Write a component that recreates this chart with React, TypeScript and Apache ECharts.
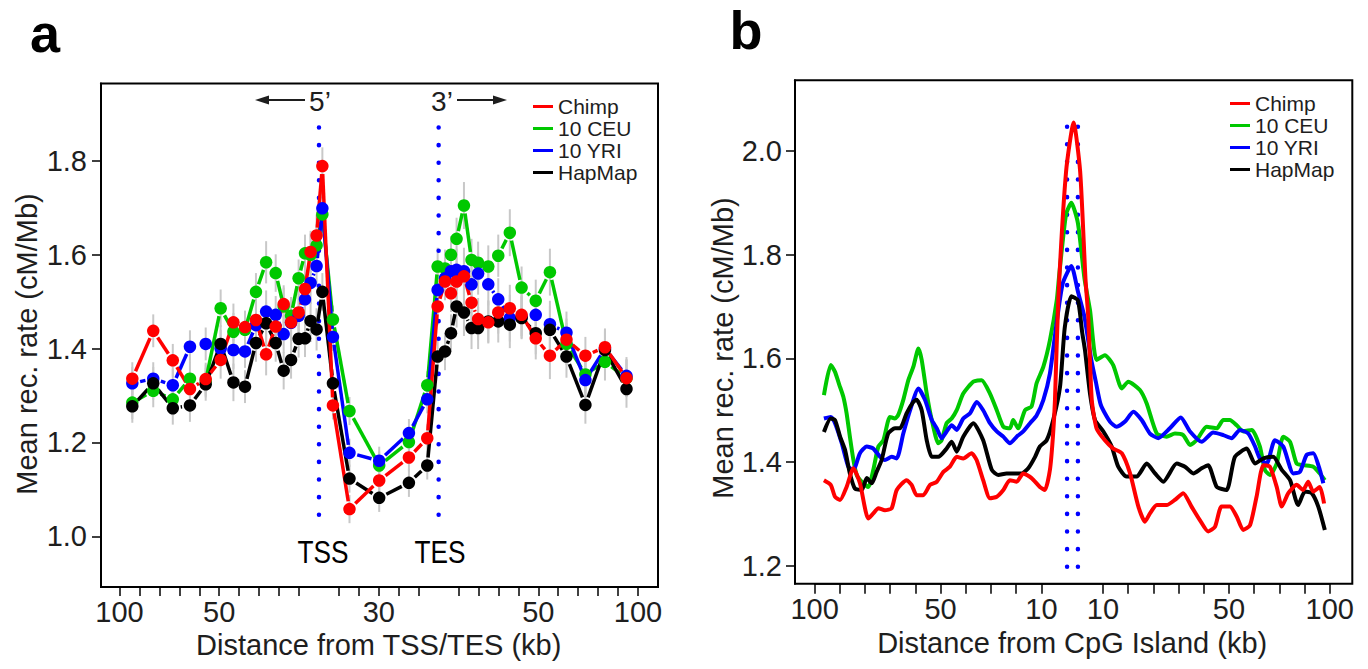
import React, { useEffect, useRef } from 'react';
import * as echarts from 'echarts';

const FONT = '"Liberation Sans", Arial, Helvetica, sans-serif';
const TXT = '#1e1e1e';

const popNames = ['Chimp', '10 CEU', '10 YRI', 'HapMap'];
const popColors = ['#ff0000', '#00c800', '#0000ff', '#000000'];

// ---------- Panel a ----------
const posA = [0.64, 1.69, 2.67, 3.53, 4.32, 5.07, 5.71, 6.29, 6.84, 7.35, 7.83, 8.23, 8.6, 8.98, 9.3, 9.58, 9.88, 10.17,
  10.7, 11.53, 13.02, 14.51, 15.43,
  15.95, 16.32, 16.62, 16.9, 17.27, 17.65, 17.98, 18.49, 18.99, 19.57, 20.16, 20.87, 21.58, 22.41, 23.36, 24.34, 25.42];
const chimpA = [1.336, 1.438, 1.375, 1.314, 1.335, 1.376, 1.456, 1.446, 1.461, 1.388, 1.447, 1.495, 1.456, 1.477, 1.527, 1.606, 1.641, 1.789,
  1.279, 1.058, 1.119, 1.168, 1.209,
  1.49, 1.543, 1.518, 1.543, 1.554, 1.498, 1.463, 1.456, 1.477, 1.486, 1.472, 1.422, 1.385, 1.419, 1.385, 1.403, 1.337];
const ceuA = [1.285, 1.31, 1.292, 1.336, 1.331, 1.486, 1.436, 1.44, 1.521, 1.584, 1.561, 1.49, 1.47, 1.55, 1.603, 1.6, 1.62, 1.686,
  1.462, 1.267, 1.151, 1.201, 1.322,
  1.575, 1.571, 1.6, 1.634, 1.705, 1.589, 1.583, 1.575, 1.598, 1.647, 1.53, 1.502, 1.563, 1.41, 1.345, 1.372, 1.337];
const yriA = [1.326, 1.336, 1.322, 1.404, 1.41, 1.4, 1.397, 1.394, 1.45, 1.479, 1.472, 1.431, 1.455, 1.47, 1.505, 1.54, 1.576, 1.699,
  1.425, 1.178, 1.161, 1.22, 1.292,
  1.525, 1.55, 1.565, 1.568, 1.565, 1.537, 1.56, 1.537, 1.505, 1.465, 1.467, 1.472, 1.452, 1.434, 1.333, 1.4, 1.342];
const hapmapA = [1.277, 1.326, 1.273, 1.279, 1.324, 1.41, 1.328, 1.319, 1.412, 1.454, 1.412, 1.353, 1.376, 1.421, 1.422, 1.459, 1.441, 1.521,
  1.326, 1.123, 1.082, 1.114, 1.151,
  1.383, 1.394, 1.433, 1.49, 1.477, 1.444, 1.444, 1.458, 1.458, 1.451, 1.465, 1.433, 1.44, 1.383, 1.28, 1.397, 1.314];
const errA = [0.035, 0.035, 0.035, 0.035, 0.035, 0.04, 0.04, 0.035, 0.04, 0.045, 0.04, 0.04, 0.04, 0.04, 0.04, 0.045, 0.045, 0.04,
  0.03, 0.03, 0.03, 0.03, 0.03,
  0.04, 0.04, 0.04, 0.045, 0.05, 0.045, 0.045, 0.045, 0.045, 0.05, 0.045, 0.045, 0.05, 0.045, 0.04, 0.04, 0.04];
const tickPosA = [0, 1, 2, 3, 4, 5, 6, 7, 8, 9, 11, 12, 13, 14, 15, 17, 18, 19, 20, 21, 22, 23, 24, 25, 26];
const labelPosA = [0, 5, 13, 21, 26];
const labelTextA = ['100', '50', '30', '50', '100'];
const yTicksA = [1.0, 1.2, 1.4, 1.6, 1.8];
const tssTesPos = [10, 16];
const markerYA = [1.046, 1.892];

// ---------- Panel b ----------
const chimpB = [[0.37,1.365],[0.64,1.356],[0.81,1.333],[1.01,1.327],[1.27,1.352],[1.54,1.388],[1.8,1.359],[2.13,1.291],[2.33,1.301],[2.53,1.311],[2.79,1.307],[3.06,1.311],[3.26,1.346],[3.65,1.365],[3.85,1.356],[4.05,1.336],[4.31,1.336],[4.58,1.356],[4.85,1.362],[5.11,1.381],[5.37,1.391],[5.64,1.41],[5.9,1.407],[6.23,1.417],[6.43,1.404],[6.69,1.365],[6.96,1.33],[7.23,1.333],[7.49,1.346],[7.75,1.365],[8.02,1.362],[8.28,1.378],[8.61,1.369],[8.94,1.352],[9.14,1.346],[9.34,1.385],[9.46,1.45],[9.54,1.52],[9.67,1.712],[9.98,1.96],[10.28,2.055],[10.54,1.96],[10.75,1.754],[10.86,1.68],[11.0,1.52],[11.19,1.465],[11.52,1.442],[11.85,1.426],[12.19,1.417],[12.52,1.378],[12.85,1.314],[13.11,1.285],[13.31,1.301],[13.58,1.317],[13.97,1.317],[14.3,1.327],[14.63,1.34],[14.96,1.314],[15.29,1.288],[15.62,1.266],[15.89,1.275],[16.15,1.314],[16.48,1.314],[16.75,1.295],[17.01,1.269],[17.28,1.278],[17.54,1.333],[17.81,1.394],[18.07,1.391],[18.34,1.352],[18.54,1.314],[18.8,1.34],[19.13,1.356],[19.39,1.346],[19.59,1.362],[19.79,1.343],[20.05,1.352],[20.22,1.32]];
const ceuB = [[0.37,1.529],[0.64,1.587],[0.81,1.574],[0.98,1.549],[1.14,1.526],[1.27,1.494],[1.4,1.449],[1.54,1.404],[1.67,1.375],[1.87,1.362],[2.13,1.352],[2.33,1.385],[2.53,1.43],[2.73,1.442],[2.99,1.487],[3.19,1.484],[3.32,1.491],[3.52,1.52],[3.72,1.558],[3.92,1.584],[4.12,1.619],[4.25,1.597],[4.45,1.532],[4.65,1.481],[4.91,1.436],[5.04,1.442],[5.24,1.475],[5.44,1.484],[5.64,1.5],[5.9,1.532],[6.3,1.555],[6.63,1.558],[6.96,1.532],[7.23,1.5],[7.49,1.468],[7.75,1.465],[7.88,1.481],[8.08,1.465],[8.35,1.5],[8.61,1.507],[8.81,1.552],[9.08,1.584],[9.34,1.635],[9.61,1.712],[9.71,1.762],[9.98,1.878],[10.19,1.9],[10.45,1.861],[10.71,1.754],[10.93,1.693],[11.19,1.597],[11.52,1.606],[11.85,1.587],[12.19,1.542],[12.45,1.555],[12.91,1.539],[13.18,1.513],[13.58,1.455],[13.97,1.449],[14.3,1.455],[14.63,1.452],[14.9,1.433],[15.16,1.442],[15.56,1.468],[15.96,1.465],[16.22,1.481],[16.48,1.481],[16.75,1.471],[17.01,1.459],[17.35,1.462],[17.67,1.43],[17.87,1.385],[18.07,1.375],[18.34,1.397],[18.6,1.449],[18.87,1.439],[19.13,1.397],[19.39,1.394],[19.79,1.391],[20.05,1.378],[20.25,1.365]];
const yriB = [[0.37,1.484],[0.64,1.487],[0.81,1.475],[1.08,1.436],[1.34,1.391],[1.54,1.385],[1.8,1.417],[2.07,1.43],[2.33,1.426],[2.6,1.41],[2.79,1.404],[3.06,1.41],[3.26,1.407],[3.52,1.455],[3.79,1.5],[4.12,1.542],[4.38,1.52],[4.65,1.481],[4.85,1.465],[5.04,1.446],[5.24,1.459],[5.44,1.471],[5.64,1.462],[5.9,1.484],[6.17,1.494],[6.43,1.516],[6.69,1.5],[6.96,1.475],[7.23,1.459],[7.49,1.449],[7.75,1.436],[8.02,1.449],[8.28,1.459],[8.55,1.475],[8.81,1.49],[9.08,1.52],[9.34,1.571],[9.59,1.663],[9.85,1.745],[10.19,1.778],[10.45,1.729],[10.71,1.68],[10.97,1.6],[11.16,1.555],[11.36,1.51],[11.72,1.478],[11.99,1.468],[12.32,1.478],[12.65,1.497],[12.98,1.481],[13.31,1.455],[13.64,1.446],[14.1,1.465],[14.53,1.486],[14.9,1.459],[15.36,1.439],[15.82,1.457],[16.22,1.452],[16.55,1.446],[16.88,1.462],[17.21,1.455],[17.48,1.43],[17.67,1.407],[17.94,1.397],[18.27,1.442],[18.6,1.43],[19.0,1.378],[19.26,1.381],[19.53,1.414],[19.79,1.417],[20.05,1.385],[20.19,1.359]];
const hapmapB = [[0.37,1.458],[0.64,1.484],[0.81,1.481],[1.01,1.449],[1.21,1.423],[1.4,1.378],[1.6,1.349],[1.87,1.346],[2.07,1.369],[2.27,1.359],[2.46,1.381],[2.66,1.404],[2.92,1.455],[3.19,1.465],[3.39,1.465],[3.65,1.494],[3.92,1.516],[4.05,1.52],[4.25,1.5],[4.45,1.442],[4.65,1.41],[4.91,1.41],[5.24,1.426],[5.44,1.439],[5.64,1.42],[5.9,1.449],[6.3,1.475],[6.69,1.442],[7.03,1.385],[7.29,1.375],[7.62,1.378],[7.88,1.378],[8.22,1.378],[8.48,1.388],[8.75,1.41],[8.94,1.43],[9.21,1.442],[9.47,1.481],[9.74,1.545],[9.93,1.66],[10.19,1.72],[10.45,1.712],[10.62,1.65],[10.73,1.616],[10.93,1.532],[11.13,1.481],[11.46,1.459],[11.79,1.43],[12.05,1.391],[12.38,1.372],[12.78,1.372],[13.18,1.397],[13.51,1.378],[13.84,1.362],[14.37,1.397],[14.7,1.391],[15.03,1.378],[15.36,1.388],[15.62,1.394],[15.96,1.352],[16.35,1.346],[16.68,1.41],[17.15,1.426],[17.48,1.397],[17.81,1.407],[18.2,1.41],[18.54,1.385],[18.87,1.365],[19.19,1.317],[19.46,1.343],[19.73,1.34],[19.99,1.314],[20.25,1.269]];
const tickPosB = [0, 1, 2, 3, 4, 5, 6, 7, 8, 9, 11.44, 12.44, 13.44, 14.44, 15.44, 16.44, 17.44, 18.44, 19.44, 20.44];
const labelPosB = [0, 5, 9, 11.44, 16.44, 20.44];
const labelTextB = ['100', '50', '10', '10', '50', '100'];
const yTicksB = [1.2, 1.4, 1.6, 1.8, 2.0];
const cpgPos = [10.02, 10.45];
const markerYB = [1.198, 2.072];

const GAP = 8; // R type="b" gap around points (px)

const nearestLabel = (v: number, pos: number[], txt: string[]) => {
  let bi = 0;
  for (let i = 1; i < pos.length; i++) if (Math.abs(pos[i] - v) < Math.abs(pos[bi] - v)) bi = i;
  return Math.abs(pos[bi] - v) < 0.05 ? txt[bi] : '';
};

const tickLabelStyle = { fontSize: 29, color: TXT, fontFamily: FONT };

function buildOption() {
  const seriesA = [chimpA, ceuA, yriA, hapmapA];
  const seriesB = [chimpB, ceuB, yriB, hapmapB];
  const drawOrder = [1, 2, 3, 0];
  const series: any[] = [];

  // error bars panel a
  drawOrder.forEach((i) => {
    series.push({
      type: 'custom',
      xAxisIndex: 0,
      yAxisIndex: 0,
      silent: true,
      z: 1,
      data: posA.map((p, j) => [p, seriesA[i][j] - errA[j], seriesA[i][j] + errA[j]]),
      encode: { x: 0, y: [1, 2] },
      renderItem: (params: any, api: any) => {
        const a = api.coord([api.value(0), api.value(1)]);
        const b = api.coord([api.value(0), api.value(2)]);
        return { type: 'line', shape: { x1: a[0], y1: a[1], x2: b[0], y2: b[1] }, style: { stroke: '#c8c8c8', lineWidth: 2 } };
      },
    });
  });

  // dotted markers
  tssTesPos.forEach((p) => {
    series.push({
      type: 'line', xAxisIndex: 0, yAxisIndex: 0, silent: true, symbol: 'none', z: 2,
      data: markerYA.map((y) => [p, y]),
      lineStyle: { color: '#0000ff', width: 4.5, type: [0.1, 17.5], cap: 'round' },
    });
  });
  cpgPos.forEach((p) => {
    series.push({
      type: 'line', xAxisIndex: 2, yAxisIndex: 2, silent: true, symbol: 'none', z: 2,
      data: markerYB.map((y) => [p, y]),
      lineStyle: { color: '#0000ff', width: 4.5, type: [0.1, 17.5], cap: 'round' },
    });
  });

  // panel a: gapped segments (R type "b") + points
  drawOrder.forEach((i) => {
    const vals = seriesA[i];
    const color = popColors[i];
    series.push({
      type: 'custom',
      xAxisIndex: 0,
      yAxisIndex: 0,
      silent: true,
      z: 3,
      data: posA.slice(0, -1).map((p, j) => [p, vals[j], posA[j + 1], vals[j + 1]]),
      encode: { x: [0, 2], y: [1, 3] },
      renderItem: (params: any, api: any) => {
        const a = api.coord([api.value(0), api.value(1)]);
        const b = api.coord([api.value(2), api.value(3)]);
        const dx = b[0] - a[0];
        const dy = b[1] - a[1];
        const L = Math.hypot(dx, dy);
        if (L <= 2 * GAP + 1) return null;
        const ux = dx / L;
        const uy = dy / L;
        return {
          type: 'line',
          shape: { x1: a[0] + ux * GAP, y1: a[1] + uy * GAP, x2: b[0] - ux * GAP, y2: b[1] - uy * GAP },
          style: { stroke: color, lineWidth: 3.5 },
        };
      },
    });
    series.push({
      name: popNames[i],
      type: 'scatter',
      xAxisIndex: 0,
      yAxisIndex: 0,
      z: 3,
      color,
      data: posA.map((p, j) => [p, vals[j]]),
      symbol: 'circle',
      symbolSize: 12.5,
      itemStyle: { color, opacity: 1 },
    });
  });

  drawOrder.forEach((i) => {
    series.push({
      name: popNames[i],
      type: 'line',
      xAxisIndex: 2,
      yAxisIndex: 2,
      z: 3,
      color: popColors[i],
      data: seriesB[i],
      symbol: 'none',
      smooth: 0.2,
      itemStyle: { color: popColors[i] },
      lineStyle: { color: popColors[i], width: 4 },
    });
  });

  const legendBase = {
    orient: 'vertical',
    data: popNames,
    icon: 'rect',
    itemWidth: 20,
    itemHeight: 3,
    itemGap: 1,
    padding: 0,
    selectedMode: false,
    textStyle: { fontSize: 21, color: TXT, fontFamily: FONT, lineHeight: 21 },
  };

  const hiddenAxis = { show: false, axisLine: { show: false, onZero: false }, splitLine: { show: false } };

  return {
    animation: false,
    backgroundColor: '#ffffff',
    textStyle: { fontFamily: FONT },
    grid: [
      { left: 101, top: 83.5, width: 557, height: 503.5, show: true, borderColor: '#000', borderWidth: 2, backgroundColor: 'transparent' },
      { left: 119.5, top: 83.5, width: 518.5, height: 503.5, show: false },
      { left: 795, top: 80.3, width: 557.3, height: 503.4, show: true, borderColor: '#000', borderWidth: 2, backgroundColor: 'transparent' },
      { left: 814.6, top: 80.3, width: 515.1, height: 503.4, show: false },
    ],
    xAxis: [
      { type: 'value', gridIndex: 0, min: -0.93, max: 27.0, ...hiddenAxis },
      {
        type: 'value', gridIndex: 1, min: 0, max: 26,
        axisLine: { show: true, onZero: false, lineStyle: { color: '#000', width: 1.5 } },
        axisTick: { show: true, length: 9, lineStyle: { color: '#000', width: 1.5 }, customValues: tickPosA },
        axisLabel: { ...tickLabelStyle, margin: 10, customValues: labelPosA, formatter: (v: number) => nearestLabel(v, labelPosA, labelTextA) },
        splitLine: { show: false },
        name: 'Distance from TSS/TES (kb)', nameLocation: 'middle', nameGap: 40,
        nameTextStyle: { fontSize: 29, color: TXT, fontFamily: FONT },
      },
      { type: 'value', gridIndex: 2, min: -0.778, max: 21.34, ...hiddenAxis },
      {
        type: 'value', gridIndex: 3, min: 0, max: 20.44,
        axisLine: { show: true, onZero: false, lineStyle: { color: '#000', width: 1.5 } },
        axisTick: { show: true, length: 10, lineStyle: { color: '#000', width: 1.5 }, customValues: tickPosB },
        axisLabel: { ...tickLabelStyle, margin: 11, customValues: labelPosB, formatter: (v: number) => nearestLabel(v, labelPosB, labelTextB) },
        splitLine: { show: false },
        name: 'Distance from CpG Island (kb)', nameLocation: 'middle', nameGap: 44,
        nameTextStyle: { fontSize: 29, color: TXT, fontFamily: FONT },
      },
    ],
    yAxis: [
      {
        type: 'value', gridIndex: 0, min: 0.892, max: 1.965,
        axisLine: { show: true, onZero: false, lineStyle: { color: '#000', width: 2 } },
        axisTick: { show: true, length: 9, lineStyle: { color: '#000', width: 1.5 }, customValues: yTicksA },
        axisLabel: { ...tickLabelStyle, margin: 14, customValues: yTicksA, formatter: (v: number) => v.toFixed(1) },
        splitLine: { show: false },
      },
      { type: 'value', gridIndex: 1, min: 0, max: 1, ...hiddenAxis },
      {
        type: 'value', gridIndex: 2, min: 1.1653, max: 2.1364,
        axisLine: { show: true, onZero: false, lineStyle: { color: '#000', width: 2 } },
        axisTick: { show: true, length: 9, lineStyle: { color: '#000', width: 1.5 }, customValues: yTicksB },
        axisLabel: { ...tickLabelStyle, margin: 13, customValues: yTicksB, formatter: (v: number) => v.toFixed(1) },
        splitLine: { show: false },
      },
      { type: 'value', gridIndex: 3, min: 0, max: 1, ...hiddenAxis },
    ],
    legend: [
      { ...legendBase, left: 533, top: 96 },
      { ...legendBase, left: 1230, top: 93 },
    ],
    graphic: [
      { type: 'text', x: 45, y: 32.5, style: { text: 'a', fontSize: 54, fontWeight: 'bold', fontFamily: FONT, fill: '#000', align: 'center', verticalAlign: 'middle' } },
      { type: 'text', x: 746, y: 30, style: { text: 'b', fontSize: 54, fontWeight: 'bold', fontFamily: FONT, fill: '#000', align: 'center', verticalAlign: 'middle' } },
      { type: 'text', x: 27, y: 344, rotation: Math.PI / 2, style: { text: 'Mean rec. rate (cM/Mb)', fontSize: 29, fontFamily: FONT, fill: TXT, align: 'center', verticalAlign: 'middle' } },
      { type: 'text', x: 723, y: 348, rotation: Math.PI / 2, style: { text: 'Mean rec. rate (cM/Mb)', fontSize: 29, fontFamily: FONT, fill: TXT, align: 'center', verticalAlign: 'middle' } },
      { type: 'text', x: 323, y: 552, scaleX: 0.82, style: { text: 'TSS', fontSize: 32, fontFamily: FONT, fill: '#000', align: 'center', verticalAlign: 'middle' } },
      { type: 'text', x: 440, y: 552, scaleX: 0.82, style: { text: 'TES', fontSize: 32, fontFamily: FONT, fill: '#000', align: 'center', verticalAlign: 'middle' } },
      { type: 'text', x: 320, y: 101, style: { text: '5\u2019', fontSize: 28, fontFamily: FONT, fill: TXT, align: 'center', verticalAlign: 'middle' } },
      { type: 'text', x: 442, y: 101, style: { text: '3\u2019', fontSize: 28, fontFamily: FONT, fill: TXT, align: 'center', verticalAlign: 'middle' } },
      { type: 'line', shape: { x1: 262, y1: 100, x2: 305, y2: 100 }, style: { stroke: '#1e1e1e', lineWidth: 2 } },
      { type: 'polygon', shape: { points: [[255, 100], [269, 95.5], [269, 104.5]] }, style: { fill: '#1e1e1e' } },
      { type: 'line', shape: { x1: 457, y1: 100, x2: 500, y2: 100 }, style: { stroke: '#1e1e1e', lineWidth: 2 } },
      { type: 'polygon', shape: { points: [[507, 100], [493, 95.5], [493, 104.5]] }, style: { fill: '#1e1e1e' } },
    ],
    series,
  };
}

export default function App() {
  const ref = useRef<HTMLDivElement>(null);
  useEffect(() => {
    document.body.style.margin = '0';
    if (!ref.current) return;
    const chart = echarts.init(ref.current, undefined, { renderer: 'svg' });
    chart.setOption(buildOption() as any);
    return () => chart.dispose();
  }, []);
  return <div ref={ref} style={{ width: 1368, height: 669 }} />;
}
